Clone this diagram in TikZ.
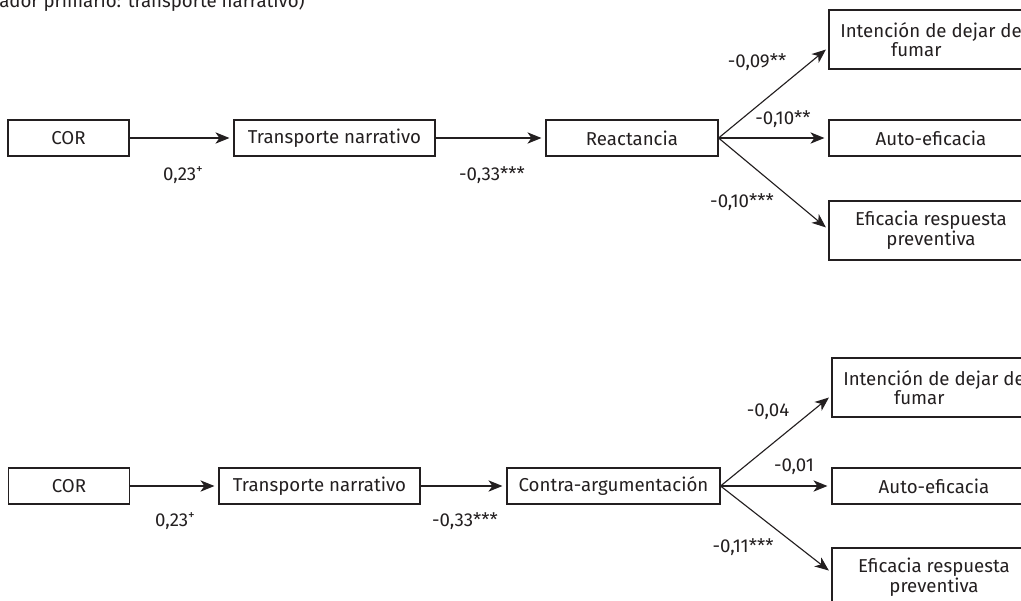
\documentclass[tikz,border=0pt]{standalone}
\usepackage{fontspec}
\setmainfont{Fira Sans}
\usetikzlibrary{arrows.meta}
\definecolor{ink}{HTML}{231F20}
\newcommand{\supplus}{\raisebox{0.75ex}{\fontsize{10}{10}\selectfont +}}
\begin{document}
\begin{tikzpicture}[x=0.75pt,y=-0.75pt,
  txt/.style={font=\fontsize{14}{10.5}\selectfont, text=ink, inner sep=0pt},
  box/.style={txt, draw=ink, line width=0.85pt, rectangle, align=center, minimum height=27pt},
  wbox/.style={box, minimum width=153pt},
  tall/.style={minimum height=44.25pt},
  lbl/.style={txt},
  arr/.style={draw=ink, line width=0.85pt, -{Stealth[length=10.5pt,width=8.5pt,inset=3pt]}, shorten >=3pt}
]
\useasboundingbox (0,0) rectangle (1021,600);
\clip (0,0) rectangle (1021,600);

\node[txt, anchor=base east, font=\fontsize{14}{14}\selectfont] (head) at (305,7) {(mediador primario: transporte narrativo)};

% top model
\node[box, minimum width=90.75pt] (cor1) at (68.5,138) {COR};
\node[box, minimum width=150.75pt] (tr1) at (334.5,138) {Transporte narrativo};
\node[box, minimum width=129pt] (re1) at (632,138) {Reactancia};
\node[wbox, tall] (in1) at (931,39.5) {Intención de dejar de\\fumar\hspace*{22pt}};
\node[wbox] (au1) at (931,138) {Auto-eficacia};
\node[wbox, tall] (ef1) at (931,230.5) {Eficacia respuesta\\preventiva};
\coordinate (in1t) at (829,47);
\coordinate (ef1t) at (829,230);

\draw[arr] (cor1) -- (tr1);
\draw[arr] (tr1) -- (re1);
\draw[arr] (re1.east) -- (in1t);
\draw[arr] (re1.east) -- (au1.west);
\draw[arr] (re1.east) -- (ef1t);

\node[lbl] (l1) at (183,175) {0,23\supplus};
\node[lbl] (l2) at (492,175) {-0,33***};
\node[lbl] (l3) at (757,62) {-0,09**};
\node[lbl] (l4) at (783,119) {-0,10**};
\node[lbl] (l5) at (742,202) {-0,10***};

% bottom model
\node[box, minimum width=90.75pt] (cor2) at (69,486) {COR};
\node[box, minimum width=150.75pt] (tr2) at (319.5,486) {Transporte narrativo};
\node[box, minimum width=159.75pt] (co2) at (613.5,486) {Contra-argumentación};
\node[wbox, tall] (in2) at (934,387.5) {Intención de dejar de\\fumar\hspace*{22pt}};
\node[wbox] (au2) at (934,486) {Auto-eficacia};
\node[wbox, tall] (ef2) at (934,577.5) {Eficacia respuesta\\preventiva};
\coordinate (in2t) at (832,395);
\coordinate (ef2t) at (832,573);

\draw[arr] (cor2) -- (tr2);
\draw[arr] (tr2) -- (co2);
\draw[arr] (co2.east) -- (in2t);
\draw[arr] (co2.east) -- (au2.west);
\draw[arr] (co2.east) -- (ef2t);

\node[lbl] (m1) at (175,521) {0,23\supplus};
\node[lbl] (m2) at (465,521) {-0,33***};
\node[lbl] (m3) at (768,412) {-0,04};
\node[lbl] (m4) at (794,467) {-0,01};
\node[lbl] (m5) at (743,547) {-0,11***};
\end{tikzpicture}
\end{document}
